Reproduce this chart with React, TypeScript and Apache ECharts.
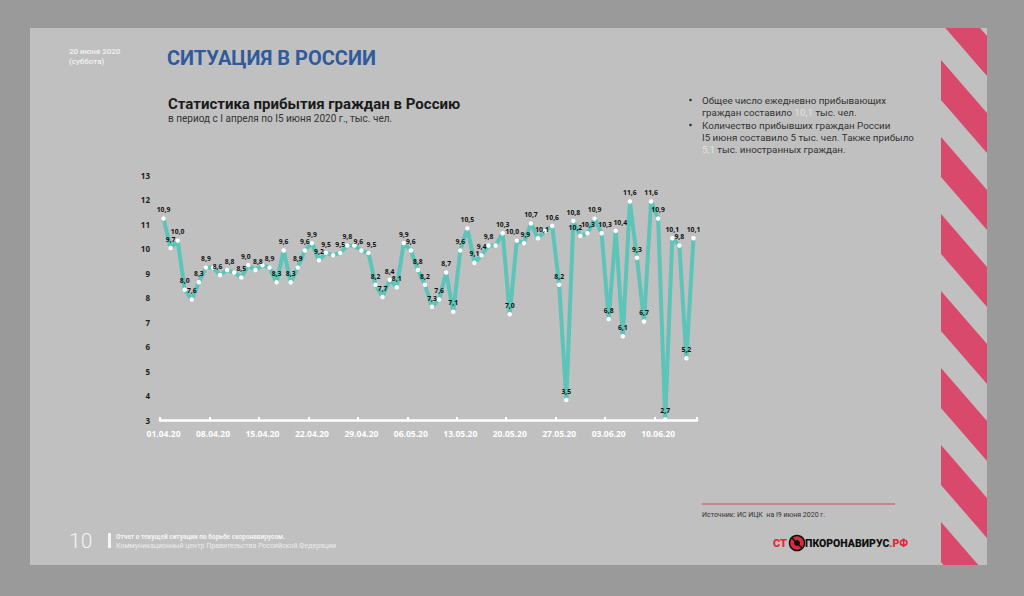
import React, { useEffect, useRef } from "react";
import * as echarts from "echarts";

// ---- data ----
const startDay = { month: 4, day: 1 };
const dayCount = 76;
const categories: string[] = (() => {
  const out: string[] = [];
  const monthLen: Record<number, number> = { 4: 30, 5: 31, 6: 30 };
  let m = startDay.month;
  let d = startDay.day;
  for (let i = 0; i < dayCount; i++) {
    out.push(`${String(d).padStart(2, "0")}.${String(m).padStart(2, "0")}.20`);
    d++;
    if (d > monthLen[m]) {
      d = 1;
      m++;
    }
  }
  return out;
})();

const arrivals: number[] = [
  10.9, 9.7, 10.0, 8.0, 7.6, 8.3, 8.9, 8.9, 8.6, 8.8,
  8.7, 8.5, 9.0, 8.8, 9.0, 8.9, 8.3, 9.6, 8.3, 8.9,
  9.6, 9.9, 9.2, 9.5, 9.4, 9.5, 9.8, 9.8, 9.6, 9.5,
  8.2, 7.7, 8.4, 8.1, 9.9, 9.6, 8.8, 8.2, 7.3, 7.6,
  8.7, 7.1, 9.6, 10.5, 9.1, 9.4, 9.8, 9.8, 10.3, 7.0,
  10.0, 9.9, 10.7, 10.1, 10.4, 10.6, 8.2, 3.5, 10.8, 10.2,
  10.3, 10.9, 10.3, 6.8, 10.4, 6.1, 11.6, 9.3, 6.7, 11.6,
  10.9, 2.7, 10.1, 9.8, 5.2, 10.1,
];
// points whose value label is not printed in the original
const unlabeledIdx: number[] = [7, 10, 14, 24, 27, 47, 54];
// small horizontal nudges (px) for crowded value labels
const labelNudge: Record<number, number> = {
  8: -2.5, 9: 2.5, 12: -2.5, 13: 2.5, 28: -3, 29: 3,
  50: -4.5, 51: 1.5, 53: 4, 59: -5, 60: 0.5, 62: 3.5, 64: 4.5,
};

const yTickMin = 3;
const yTickMax = 13;

const bulletLines: string[][] = [
  ["Общее число ежедневно прибывающих", "граждан составило {l|10,1} тыс. чел."],
  ["Количество прибывших граждан России", "I5 июня составило 5 тыс. чел. Также прибыло", "{l|5,1} тыс. иностранных граждан."],
];

const FONT = "Roboto, 'Noto Sans', sans-serif";

export default function App() {
  const ref = useRef<HTMLDivElement>(null);
  useEffect(() => {
    document.body.style.margin = "0";
    const chart = echarts.init(ref.current!, undefined, { renderer: "svg" });

    const graphics: any[] = [];
    // slide
    graphics.push({ type: "rect", shape: { x: 30, y: 28, width: 957, height: 537 }, style: { fill: "#c0c0c0" }, z: -10 });
    // stripes
    for (let y0 = -17; y0 < 600; y0 += 77) {
      graphics.push({
        type: "polygon",
        shape: { points: [[941, y0], [987, y0 + 53], [987, y0 + 93], [941, y0 + 40]] },
        style: { fill: "#d9496b" },
        z: -5,
      });
    }
    graphics.push({ type: "rect", shape: { x: 935, y: 0, width: 60, height: 28 }, style: { fill: "#9a9a9a" }, z: -4 });
    graphics.push({ type: "rect", shape: { x: 935, y: 565, width: 60, height: 31 }, style: { fill: "#9a9a9a" }, z: -4 });

    // header
    graphics.push({ type: "text", x: 69, y: 51, style: { text: "20 июня 2020", fill: "#f2f2f2", font: `500 8px ${FONT}`, verticalAlign: "middle" } });
    graphics.push({ type: "text", x: 69, y: 61, style: { text: "(суббота)", fill: "#f2f2f2", font: `500 8px ${FONT}`, verticalAlign: "middle" } });
    graphics.push({ type: "text", x: 167, y: 58, style: { text: "СИТУАЦИЯ В РОССИИ", fill: "#2f5a9e", font: `bold 20px ${FONT}`, verticalAlign: "middle" } });
    graphics.push({ type: "text", x: 168, y: 104, style: { text: "Статистика прибытия граждан в Россию", fill: "#1a1a1a", font: `bold 15px ${FONT}`, verticalAlign: "middle" } });
    graphics.push({ type: "text", x: 168, y: 118, style: { text: "в период с I апреля по I5 июня 2020 г., тыс. чел.", fill: "#333", font: `10px ${FONT}`, verticalAlign: "middle" } });

    // bullets
    let ly = 100;
    bulletLines.forEach((lines) => {
      graphics.push({ type: "circle", shape: { cx: 690.5, cy: ly, r: 1.3 }, style: { fill: "#333" } });
      lines.forEach((t) => {
        graphics.push({
          type: "text", x: 702, y: ly,
          style: { text: t, fill: "#333", font: `9.8px ${FONT}`, verticalAlign: "middle", rich: { l: { fill: "#e2e2e2", font: `9.8px ${FONT}` } } },
        });
        ly += 12;
      });
      ly += 1;
    });

    // source
    graphics.push({ type: "line", shape: { x1: 702, y1: 504, x2: 895, y2: 504 }, style: { stroke: "#d04a62", lineWidth: 1 } });
    graphics.push({ type: "text", x: 702, y: 515, style: { text: "Источник: ИС ИЦК  на I9 июня 2020 г.", fill: "#333", font: `7px ${FONT}`, verticalAlign: "middle" } });

    // logo
    graphics.push({ type: "text", x: 773, y: 543, style: { text: "СТ", fill: "#e0283a", font: `900 11px ${FONT}`, verticalAlign: "middle" } });
    graphics.push({ type: "circle", shape: { cx: 797, cy: 543, r: 7.5 }, style: { fill: "#e0283a", stroke: "#111", lineWidth: 1.5 } });
    graphics.push({ type: "circle", shape: { cx: 797, cy: 543, r: 3 }, style: { fill: "#111" } });
    graphics.push({ type: "line", shape: { x1: 792, y1: 538, x2: 802, y2: 548 }, style: { stroke: "#111", lineWidth: 1.5 } });
    graphics.push({
      type: "text", x: 805, y: 543,
      style: { text: "ПКОРОНАВИРУС{r|.РФ}", fill: "#111", font: `900 10.5px ${FONT}`, verticalAlign: "middle", rich: { r: { fill: "#e0283a", font: `900 10.5px ${FONT}` } } },
    });

    // footer
    graphics.push({ type: "text", x: 69, y: 541, style: { text: "10", fill: "#f4f4f4", font: `300 21px ${FONT}`, verticalAlign: "middle" } });
    graphics.push({ type: "rect", shape: { x: 108, y: 533, width: 3, height: 15 }, style: { fill: "#f4f4f4" } });
    graphics.push({ type: "text", x: 116, y: 537, style: { text: "Отчет о текущей ситуации по борьбе скоронавирусом.", fill: "#f4f4f4", font: `bold 6.5px ${FONT}`, verticalAlign: "middle" } });
    graphics.push({ type: "text", x: 116, y: 545.5, style: { text: "Коммуникационный центр Правительства Российской Федерации", fill: "#ececec", font: `7px ${FONT}`, verticalAlign: "middle" } });

    const seriesData = arrivals.map((v, i) => ({
      value: v,
      label: { show: !unlabeledIdx.includes(i), offset: [labelNudge[i] || 0, 0] },
    }));

    chart.setOption({
      animation: false,
      backgroundColor: "#9a9a9a",
      textStyle: { fontFamily: FONT },
      graphic: { elements: graphics },
      grid: { left: 160, right: 327, top: 175, bottom: 176, containLabel: false },
      xAxis: {
        type: "category",
        data: categories,
        boundaryGap: true,
        axisLine: { onZero: false, lineStyle: { color: "#ffffff", width: 2.5 } },
        axisTick: { show: true, interval: 6, inside: true, length: 3, lineStyle: { color: "#ffffff", width: 2 } },
        axisLabel: { interval: 6, color: "#ffffff", fontWeight: "bold", fontSize: 8.5, margin: 9, fontFamily: "'Open Sans', sans-serif" },
        splitLine: { show: false },
      },
      yAxis: [
        { type: "value", min: yTickMin - 0.32, max: yTickMax - 0.32, show: false },
        {
          type: "value", min: yTickMin, max: yTickMax, interval: 1, position: "left",
          axisLine: { show: false }, axisTick: { show: false }, splitLine: { show: false },
          axisLabel: { color: "#222", fontWeight: "bold", fontSize: 8, margin: 10, fontFamily: "'Open Sans', sans-serif" },
        },
      ],
      series: [
        {
          type: "line",
          yAxisIndex: 0,
          data: seriesData,
          symbol: "circle",
          symbolSize: 4.5,
          itemStyle: { color: "#ffffff", borderWidth: 0 },
          lineStyle: { color: "#5cc4b8", width: 4 },
          z: 3,
          label: {
            show: true,
            position: "top",
            distance: 3,
            fontSize: 6.8,
            fontWeight: "bold",
            color: "#111",
            fontFamily: "'Open Sans', sans-serif",
            formatter: (p: any) => Number(p.value).toFixed(1).replace(".", ","),
          },
        },
      ],
    });
    return () => chart.dispose();
  }, []);
  return <div ref={ref} style={{ position: "absolute", left: 0, top: 0, width: 1024, height: 596 }} />;
}
